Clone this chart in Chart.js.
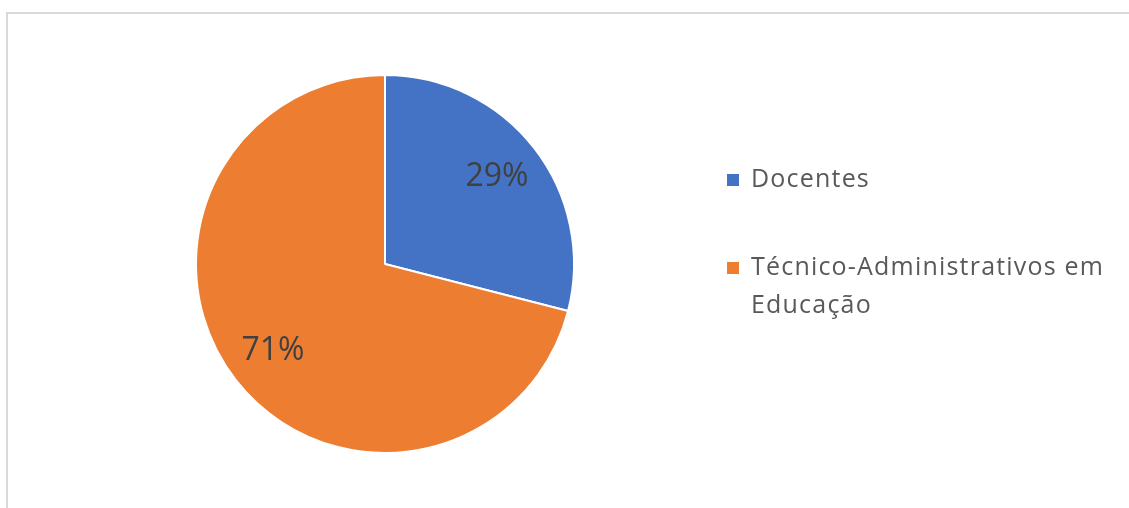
<!DOCTYPE html>
<html>
<head>
<meta charset="utf-8">
<script src="https://cdn.jsdelivr.net/npm/chart.js@4.4.1/dist/chart.umd.min.js"></script>
<style>
    html, body { margin: 0; padding: 0; background: #fff; }
    #wrap { position: relative; width: 1129px; height: 508px; }
</style>
</head>
<body>
<div id="wrap"><canvas id="grafico" width="1129" height="508"></canvas></div>
<script>
(function () {
    const labels = ['Docentes', 'Técnico-Administrativos em Educação'];
    const values = [29, 71];
    const sliceColors = ['#4472C4', '#ED7D31'];

    const fontFamily = '"Open Sans", "Noto Sans", sans-serif';

    // moldura cinza (so topo e esquerda aparecem no recorte)
    const frame = {
        id: 'frame',
        beforeDraw: function (chart) {
            const ctx = chart.ctx;
            ctx.save();
            ctx.fillStyle = '#d9d9d9';
            ctx.fillRect(6, 12, chart.width - 6, 2);
            ctx.fillRect(6, 12, 2, chart.height - 12);
            ctx.restore();
        }
    };

    // percentuais dentro das fatias
    const sliceLabels = {
        id: 'sliceLabels',
        afterDatasetsDraw: function (chart) {
            const ctx = chart.ctx;
            const meta = chart.getDatasetMeta(0);
            const data = chart.data.datasets[0].data;
            const total = data.reduce(function (a, b) { return a + b; }, 0);
            ctx.save();
            ctx.font = '32px ' + fontFamily;
            ctx.fillStyle = '#404040';
            ctx.textAlign = 'center';
            ctx.textBaseline = 'middle';
            meta.data.forEach(function (arc, i) {
                const mid = (arc.startAngle + arc.endAngle) / 2;
                const r = arc.outerRadius * 0.75;
                const x = arc.x + Math.cos(mid) * r;
                const y = arc.y + Math.sin(mid) * r;
                ctx.fillText(Math.round(data[i] / total * 100) + '%', x, y);
            });
            ctx.restore();
        }
    };

    // legenda a direita com quebra de linha
    const sideLegend = {
        id: 'sideLegend',
        afterDraw: function (chart) {
            const ctx = chart.ctx;
            const colors = chart.data.datasets[0].backgroundColor;
            const left = 727;
            const maxWidth = 375;
            let y = 180;
            ctx.save();
            ctx.font = '25px ' + fontFamily;
            ctx.letterSpacing = '1.2px';
            ctx.textBaseline = 'middle';
            chart.data.labels.forEach(function (label, i) {
                const words = label.split(' ');
                const lines = [];
                let line = '';
                words.forEach(function (w) {
                    const test = line ? line + ' ' + w : w;
                    if (ctx.measureText(test).width > maxWidth && line) {
                        lines.push(line);
                        line = w;
                    } else {
                        line = test;
                    }
                });
                lines.push(line);

                ctx.fillStyle = colors[i];
                ctx.fillRect(left, y - 6, 12, 12);
                ctx.fillStyle = '#595959';
                lines.forEach(function (t, k) {
                    ctx.fillText(t, left + 24, y + k * 38);
                });
                y += 88;
            });
            ctx.restore();
        }
    };

    new Chart(document.getElementById('grafico').getContext('2d'), {
        type: 'pie',
        data: {
            labels: labels.slice(),
            datasets: [
                {
                    data: values.slice(),
                    backgroundColor: sliceColors.slice(),
                    borderColor: '#ffffff',
                    borderWidth: 2
                }
            ]
        },
        options: {
            responsive: false,
            animation: false,
            layout: {
                padding: { left: 195, right: 554, top: 74, bottom: 54 }
            },
            plugins: {
                legend: { display: false },
                tooltip: { enabled: false }
            }
        },
        plugins: [frame, sliceLabels, sideLegend]
    });
})();
</script>
</body>
</html>
